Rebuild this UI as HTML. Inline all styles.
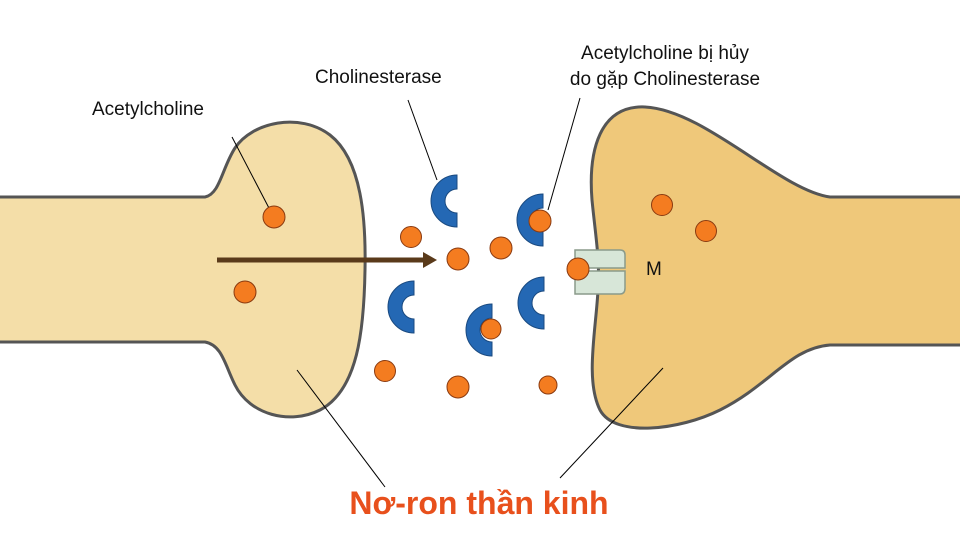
<!DOCTYPE html>
<html><head><meta charset="utf-8"><style>
body{margin:0;background:#fff;}
svg{display:block;font-family:"Liberation Sans",sans-serif;}
</style></head><body>
<svg width="960" height="545" viewBox="0 0 960 545" xmlns="http://www.w3.org/2000/svg">
<path d="M-5,197 L205,197 C220,194 222,168 235,148 C252,122 300,112 330,135 C362,160 366,220 365,270 C364,330 358,390 320,410 C290,425 250,415 235,385 C225,365 222,345 205,342 L-5,342 Z" fill="#f4dea8" stroke="#555" stroke-width="3"/>
<path d="M965,197 L830,197 C780,190 705,110 645,107 C600,105 588,150 592,200 C596,240 600,260 598,290 C596,330 585,380 600,410 C615,438 680,430 720,410 C770,385 790,348 830,345 L965,345 Z" fill="#efc87a" stroke="#555" stroke-width="3"/>
<line x1="217" y1="260" x2="425" y2="260" stroke="#5a3a1a" stroke-width="5"/>
<polygon points="423,252 437,260 423,268" fill="#5a3a1a"/>
<g stroke="#000" stroke-width="1" fill="none">
<line x1="232" y1="137" x2="270" y2="210"/>
<line x1="408" y1="100" x2="437" y2="180"/>
<line x1="580" y1="98" x2="548" y2="210"/>
<line x1="385" y1="487" x2="297" y2="370"/>
<line x1="560" y1="478" x2="663" y2="368"/>
</g>
<g fill="#2468b4" stroke="#1a4a80" stroke-width="1">
<path d="M457,175 A26,26 0 0 0 457,227 L457,213 A12,12 0 0 1 457,189 Z"/>
<path d="M543,194 A26,26 0 0 0 543,246 L543,232 A12,12 0 0 1 543,208 Z"/>
<path d="M414,281 A26,26 0 0 0 414,333 L414,319 A12,12 0 0 1 414,295 Z"/>
<path d="M544,277 A26,26 0 0 0 544,329 L544,315 A12,12 0 0 1 544,291 Z"/>
<path d="M492,304 A26,26 0 0 0 492,356 L492,342 A12,12 0 0 1 492,318 Z"/>
</g>
<path d="M575,250 L620,250 Q625,250 625,255 L625,268 L588,268 L588,271 L625,271 L625,288 Q625,294 620,294 L575,294 Z" fill="#d7e6d8" stroke="#8a9a8a" stroke-width="1.5"/>
<g fill="#f47c20" stroke="#8a3a10" stroke-width="1">
<circle cx="274" cy="217" r="11"/><circle cx="245" cy="292" r="11"/>
<circle cx="411" cy="237" r="10.5"/><circle cx="458" cy="259" r="11"/>
<circle cx="501" cy="248" r="11"/><circle cx="540" cy="221" r="11"/>
<circle cx="578" cy="269" r="11"/><circle cx="491" cy="329" r="10"/>
<circle cx="385" cy="371" r="10.5"/><circle cx="458" cy="387" r="11"/>
<circle cx="548" cy="385" r="9"/><circle cx="662" cy="205" r="10.5"/>
<circle cx="706" cy="231" r="10.5"/>
</g>
<g font-size="19" fill="#111">
<text x="92" y="115">Acetylcholine</text>
<text x="315" y="83">Cholinesterase</text>
<text x="665" y="59" text-anchor="middle">Acetylcholine bị hủy</text>
<text x="665" y="85" text-anchor="middle">do gặp Cholinesterase</text>
<text x="646" y="275">M</text>
</g>
<text x="479" y="514" text-anchor="middle" font-size="32" font-weight="bold" fill="#e8501c">Nơ-ron thần kinh</text>
</svg>
</body></html>
